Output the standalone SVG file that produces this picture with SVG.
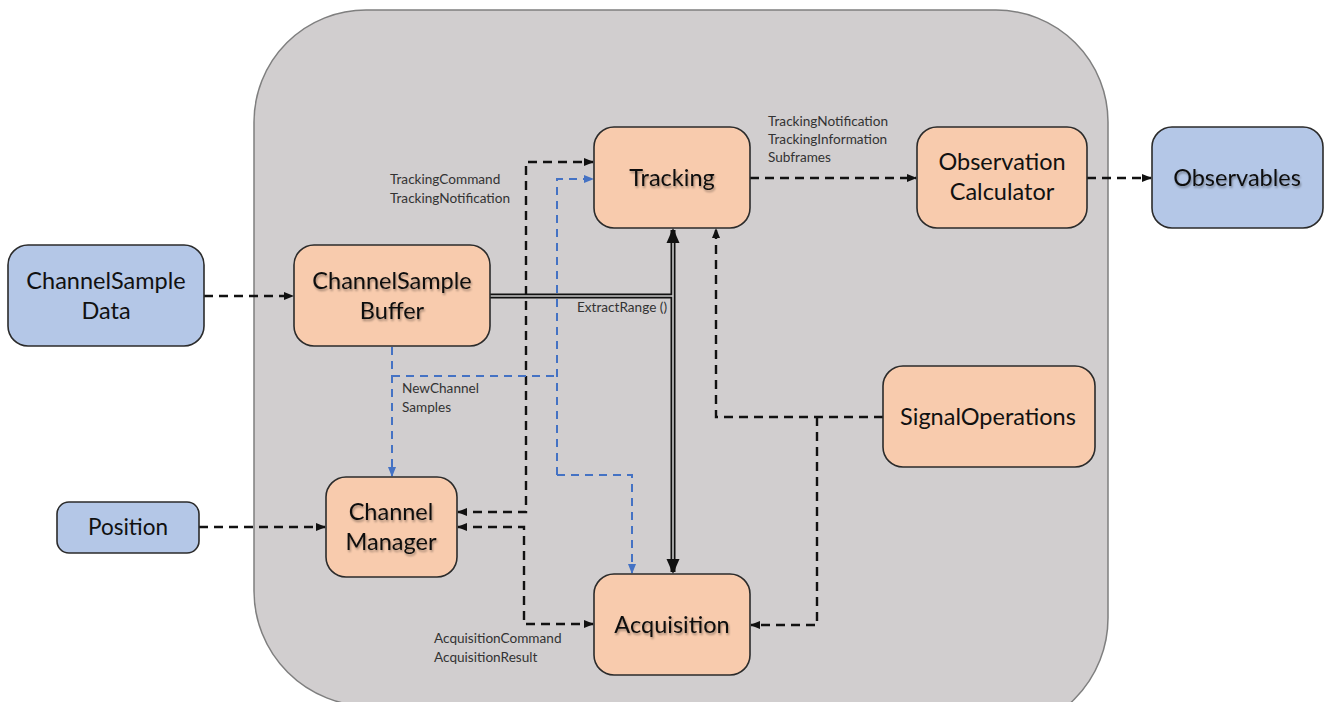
<svg xmlns="http://www.w3.org/2000/svg" width="1329" height="702" viewBox="0 0 1329 702">
  <defs>
    <style>
      .node-o { fill: #f8cbad; stroke: #2b2b2b; stroke-width: 1.6; }
      .node-b { fill: #b4c7e7; stroke: #2b2b2b; stroke-width: 1.6; }
      .ntext { font-family: Lato, "Open Sans", sans-serif; font-size: 23.5px; fill: #111; text-anchor: middle; }
      .shadow { filter: url(#txtShadow); }
      .lbl { font-family: Lato, "Open Sans", sans-serif; font-size: 13.6px; fill: #333; }
      .dash { fill: none; stroke: #111; stroke-width: 2.4; stroke-dasharray: 9 6; }
      .blue { fill: none; stroke: #4472c4; stroke-width: 2; stroke-dasharray: 8 6; }
      .dbl-out { fill: none; stroke: #111; stroke-width: 5; }
      .dbl-in { fill: none; stroke: #c9c9c9; stroke-width: 1.6; }
    </style>
    <filter id="txtShadow" x="-10%" y="-20%" width="130%" height="150%">
      <feGaussianBlur in="SourceAlpha" stdDeviation="1"/>
      <feOffset dx="1" dy="1.5" result="b"/>
      <feComponentTransfer><feFuncA type="linear" slope="0.35"/></feComponentTransfer>
      <feMerge><feMergeNode/><feMergeNode in="SourceGraphic"/></feMerge>
    </filter>
    <marker id="ah" markerWidth="10" markerHeight="8" refX="9" refY="4" orient="auto" markerUnits="userSpaceOnUse">
      <path d="M0,0 L10,4 L0,8 Z" fill="#111"/>
    </marker>
    <marker id="ahs" markerWidth="10" markerHeight="8" refX="1" refY="4" orient="auto" markerUnits="userSpaceOnUse">
      <path d="M10,0 L0,4 L10,8 Z" fill="#111"/>
    </marker>
    <marker id="ahb" markerWidth="10" markerHeight="8" refX="9" refY="4" orient="auto" markerUnits="userSpaceOnUse">
      <path d="M0,0 L10,4 L0,8 Z" fill="#4472c4"/>
    </marker>
  </defs>

  <rect width="1329" height="702" fill="#ffffff"/>

  <!-- receiver boundary -->
  <path id="receiver" d="M366,10 H996 A112,112 0 0 1 1108,122 V618 A115,115 0 0 1 993,733 L369,706 A115,115 0 0 1 254,591 V122 A112,112 0 0 1 366,10 Z" fill="#d1cecf" stroke="#7f7f7f" stroke-width="1.5"/>

  <!-- connectors -->
  <g id="connectors">
    <!-- ExtractRange double line -->
    <path class="dbl-out" d="M490,296 H673"/>
    <path class="dbl-out" d="M673,572 V230"/>
    <path class="dbl-in" d="M490,296 H673"/>
    <path class="dbl-in" d="M673,564 V238"/>
    <path d="M673,228 L666.5,243 L679.5,243 Z" fill="#111"/>
    <path d="M673,574 L666.5,559 L679.5,559 Z" fill="#111"/>

    <path class="dash" d="M204,296 H293" marker-end="url(#ah)"/>
    <path class="dash" d="M199,527 H325" marker-end="url(#ah)"/>
    <path class="dash" d="M750,178 H916" marker-end="url(#ah)"/>
    <path class="dash" d="M1087,178 H1151" marker-end="url(#ah)"/>

    <!-- Channel Manager <-> Tracking -->
    <path class="dash" d="M458,512 H526 V162 H593" marker-start="url(#ahs)" marker-end="url(#ah)"/>
    <!-- Channel Manager <-> Acquisition -->
    <path class="dash" d="M458,527 H524 V624 H593" marker-start="url(#ahs)" marker-end="url(#ah)"/>

    <!-- SignalOperations -> Tracking / Acquisition -->
    <path class="dash" d="M883,417 H716 V229" marker-end="url(#ah)"/>
    <path class="dash" d="M817,417 V625 H751" marker-end="url(#ah)"/>

    <!-- NewChannelSamples -->
    <path class="blue" d="M392,347 V476" marker-end="url(#ahb)"/>
    <path class="blue" d="M392,376 H557"/>
    <path class="blue" d="M557,475 V179 H593" marker-end="url(#ahb)"/>
    <path class="blue" d="M557,475 H632 V573" marker-end="url(#ahb)"/>
  </g>

  <!-- connector labels -->
  <g id="labels">
    <text class="lbl" x="390" y="184">TrackingCommand</text>
    <text class="lbl" x="390" y="203">TrackingNotification</text>
    <text class="lbl" x="768" y="126">TrackingNotification</text>
    <text class="lbl" x="768" y="144">TrackingInformation</text>
    <text class="lbl" x="768" y="162">Subframes</text>
    <text class="lbl" x="577" y="312">ExtractRange ()</text>
    <text class="lbl" x="402" y="393">NewChannel</text>
    <text class="lbl" x="402" y="412">Samples</text>
    <text class="lbl" x="434" y="643">AcquisitionCommand</text>
    <text class="lbl" x="434" y="662">AcquisitionResult</text>
  </g>

  <g id="channel-sample-data">
    <rect class="node-b" x="8" y="245" width="196" height="101" rx="20"/>
    <text class="ntext" x="106" y="289">ChannelSample</text>
    <text class="ntext" x="106" y="319">Data</text>
  </g>

  <g id="position">
    <rect class="node-b" x="57" y="502" width="142" height="51" rx="12"/>
    <text class="ntext" x="128" y="535" style="font-size:22.5px">Position</text>
  </g>

  <g id="observables">
    <rect class="node-b" x="1152" y="127" width="171" height="101" rx="20"/>
    <text class="ntext shadow" x="1237" y="186">Observables</text>
  </g>

  <g id="channel-sample-buffer">
    <rect class="node-o" x="294" y="245" width="196" height="101" rx="20"/>
    <text class="ntext shadow" x="392" y="289">ChannelSample</text>
    <text class="ntext shadow" x="392" y="319">Buffer</text>
  </g>

  <g id="tracking">
    <rect class="node-o" x="594" y="127" width="156" height="101" rx="20"/>
    <text class="ntext shadow" x="672" y="186">Tracking</text>
  </g>

  <g id="observation-calculator">
    <rect class="node-o" x="917" y="127" width="170" height="101" rx="20"/>
    <text class="ntext" x="1002" y="170">Observation</text>
    <text class="ntext" x="1002" y="200">Calculator</text>
  </g>

  <g id="channel-manager">
    <rect class="node-o" x="326" y="477" width="131" height="100" rx="20"/>
    <text class="ntext shadow" x="391" y="520">Channel</text>
    <text class="ntext shadow" x="391" y="550">Manager</text>
  </g>

  <g id="signal-operations">
    <rect class="node-o" x="883" y="366" width="212" height="101" rx="20"/>
    <text class="ntext" x="988" y="425">SignalOperations</text>
  </g>

  <g id="acquisition">
    <rect class="node-o" x="594" y="574" width="156" height="101" rx="20"/>
    <text class="ntext shadow" x="672" y="633">Acquisition</text>
  </g>
</svg>
